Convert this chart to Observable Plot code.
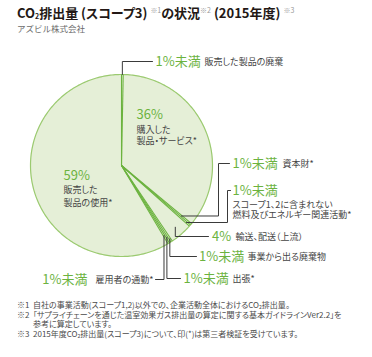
<!DOCTYPE html>
<html><head><meta charset="utf-8">
<script src="https://cdn.jsdelivr.net/npm/d3@7"></script>
<script src="https://cdn.jsdelivr.net/npm/@observablehq/plot@0.6"></script>
<style>
html,body{margin:0;padding:0;background:#fff;}
body{font-family:"Noto Sans CJK JP","Noto Sans",sans-serif;}
#wrap{position:relative;width:372px;height:357px;overflow:hidden;}
#title{position:absolute;left:17px;top:6px;font-size:13px;line-height:13px;font-weight:bold;color:#231815;white-space:nowrap;font-feature-settings:"palt";}
#title sub{font-size:7px;vertical-align:-1px;line-height:0;}
#title sup{font-size:7px;color:#9a9a9a;font-weight:normal;vertical-align:5px;line-height:0;}
#sub{position:absolute;left:17px;top:23.5px;font-size:8.5px;line-height:9px;color:#6a6a6a;white-space:nowrap;}
#chart{position:absolute;left:0;top:38px;}
#chart svg text{font-feature-settings:"palt";}
#notes{position:absolute;left:17px;top:300px;font-size:8px;line-height:9.5px;color:#4a4a4a;white-space:nowrap;font-feature-settings:"palt";}
#notes .m{display:inline-block;width:16px;}
#notes .ind{padding-left:16px;}
#notes sub{font-size:5px;vertical-align:-1px;line-height:0;}
</style></head>
<body>
<div id="wrap">
  <div id="title">CO<sub>2</sub>排出量 (スコープ3) <sup>※1</sup>の状況<sup>※2</sup> (2015年度) <sup>※3</sup></div>
  <div id="sub">アズビル株式会社</div>
  <div id="chart"></div>
  <div id="notes">
    <div><span class="m">※1</span>自社の事業活動(スコープ1,2)以外での、企業活動全体におけるCO<sub>2</sub>排出量。</div>
    <div><span class="m">※2</span>「サプライチェーンを通じた温室効果ガス排出量の算定に関する基本ガイドラインVer2.2」を</div>
    <div class="ind">参考に算定しています。</div>
    <div><span class="m">※3</span>2015年度CO<sub>2</sub>排出量(スコープ3)について、印(*)は第三者検証を受けています。</div>
  </div>
</div>
<script>
// ---- data ----
const categories = ["販売した製品の廃棄", "購入した製品・サービス", "資本財", "スコープ1、2に含まれない燃料及びエネルギー関連活動", "輸送、配送（上流）", "事業から出る廃棄物", "出張", "雇用者の通勤", "販売した製品の使用"];
const shares = [0.3, 36, 0.3, 0.3, 4, 0.3, 0.3, 0.3, 59];
const shareLabels = ["1%未満", "36%", "1%未満", "1%未満", "4%", "1%未満", "1%未満", "1%未満", "59%"];
const displayNames = ["販売した製品の廃棄", "購入した\n製品・サービス", "資本財", "スコープ1、2に含まれない\n燃料及びエネルギー関連活動", "輸送、配送（上流）", "事業から出る廃棄物", "出張", "雇用者の通勤", "販売した\n製品の使用"];
const verified = [false, true, true, true, false, false, true, true, true];

// ---- layout (page pixels) ----
const W = 372, H = 254, TOP = 38;
const CX = 121, CY = 165, R = 91;
const ux = px => (px - CX) / R;
const uy = py => (CY - py) / R;

const layout = [
  {i: 0, kind: "out", route: "v", r: 1.0, labelY: 61, lineEnd: 152, pctX: 155, pctAnchor: "start", nameX: 204, nameAnchor: "start"},
  {i: 1, kind: "in", pctX: 136, pctY: 114, nameX: 136, nameY: 134.2, lh: 1.3},
  {i: 2, kind: "out", route: "hv", r: 0.86, elbowX: 218, labelY: 163, lineEnd: 229, pctX: 232, pctAnchor: "start", nameX: 282, nameAnchor: "start"},
  {i: 3, kind: "out", route: "hv", r: 0.95, elbowX: 227, labelY: 190, lineEnd: 230, pctX: 232, pctAnchor: "start", nameX: 232, nameY: 209.2, nameAnchor: "start", lh: 1.15},
  {i: 4, kind: "out", route: "v", r: 0.9, labelY: 236, lineEnd: 208, pctX: 211.5, pctAnchor: "start", nameX: 235, nameAnchor: "start"},
  {i: 5, kind: "out", route: "v", r: 0.965, labelY: 256, lineEnd: 196, pctX: 198.5, pctAnchor: "start", nameX: 247, nameAnchor: "start"},
  {i: 6, kind: "out", route: "v", r: 0.933, labelY: 278, lineEnd: 180, pctX: 183, pctAnchor: "start", nameX: 232, nameAnchor: "start"},
  {i: 7, kind: "out", route: "v", r: 0.9, labelY: 279, lineEnd: 155, pctX: 87, pctAnchor: "end", nameX: 153, nameAnchor: "end"},
  {i: 8, kind: "in", pctX: 63, pctY: 175, nameX: 63, nameY: 194.7, lh: 1.4}
];

// ---- geometry from data ----
const arcs = d3.pie().sort(null).value(d => d)(shares).map((a, i) => ({...a, name: categories[i]}));

const slicePts = [];
arcs.forEach(a => {
  slicePts.push({name: a.name, x: 0, y: 0});
  const n = Math.max(2, Math.ceil((a.endAngle - a.startAngle) / (Math.PI / 180)));
  for (let k = 0; k <= n; k++) {
    const t = a.startAngle + (a.endAngle - a.startAngle) * k / n;
    slicePts.push({name: a.name, x: Math.sin(t), y: Math.cos(t)});
  }
  slicePts.push({name: a.name, x: 0, y: 0});
});
const rim = d3.range(0, 361).map(d => ({x: Math.sin(d * Math.PI / 180), y: Math.cos(d * Math.PI / 180)}));

const leaders = [];
const pctTexts = [], nameTexts = [];
layout.forEach(L => {
  const a = arcs[L.i];
  const name = displayNames[L.i] + (verified[L.i] ? "*" : "");
  if (L.kind === "in") {
    pctTexts.push({x: ux(L.pctX), y: uy(L.pctY), text: shareLabels[L.i], anchor: "start"});
    nameTexts.push({x: ux(L.nameX), y: uy(L.nameY), text: name, anchor: "start", lh: L.lh});
    return;
  }
  const mid = (a.startAngle + a.endAngle) / 2;
  const sx = L.r * Math.sin(mid), sy = L.r * Math.cos(mid);
  const pts = [[sx, sy]];
  if (L.route === "hv") {
    pts.push([ux(L.elbowX), sy], [ux(L.elbowX), uy(L.labelY)], [ux(L.lineEnd), uy(L.labelY)]);
  } else {
    pts.push([sx, uy(L.labelY)], [ux(L.lineEnd), uy(L.labelY)]);
  }
  pts.forEach(p => leaders.push({key: a.name, x: p[0], y: p[1]}));
  pctTexts.push({x: ux(L.pctX), y: uy(L.labelY), text: shareLabels[L.i], anchor: L.pctAnchor});
  nameTexts.push({x: ux(L.nameX), y: L.nameY ? uy(L.nameY) : uy(L.labelY), text: name, anchor: L.nameAnchor, lh: L.lh || 1.2});
});

const GREEN = "#6cb33f";
const textMarks = [];
for (const anchor of ["start", "end"]) {
  textMarks.push(Plot.text(pctTexts.filter(d => d.anchor === anchor), {x: "x", y: "y", text: "text", textAnchor: anchor, fill: GREEN, fontSize: 13, lineAnchor: "middle"}));
}
nameTexts.forEach(d => {
  textMarks.push(Plot.text([d], {x: "x", y: "y", text: "text", textAnchor: d.anchor, fill: "#444", fontSize: 9, lineAnchor: "middle", lineHeight: d.lh}));
});

const chart = Plot.plot({
  width: W, height: H,
  margin: 0,
  x: {domain: [ux(0), ux(W)], axis: null},
  y: {domain: [uy(TOP + H), uy(TOP)], axis: null},
  style: {fontFamily: "'Noto Sans CJK JP', 'Noto Sans', sans-serif", background: "transparent", overflow: "visible"},
  marks: [
    Plot.line(slicePts, {x: "x", y: "y", z: "name", fill: "#e5efd7", stroke: "#e5efd7", strokeWidth: 0.5}),
    Plot.line(rim, {x: "x", y: "y", stroke: "#9bca70", strokeWidth: 1.2}),
    Plot.link(arcs, {x1: () => 0, y1: () => 0, x2: d => Math.sin(d.startAngle), y2: d => Math.cos(d.startAngle), stroke: GREEN, strokeWidth: 1.1}),
    Plot.line(leaders, {x: "x", y: "y", z: "key", stroke: "#3a3a3a", strokeWidth: 1}),
    ...textMarks
  ]
});
document.getElementById("chart").appendChild(chart);
</script>
</body></html>
